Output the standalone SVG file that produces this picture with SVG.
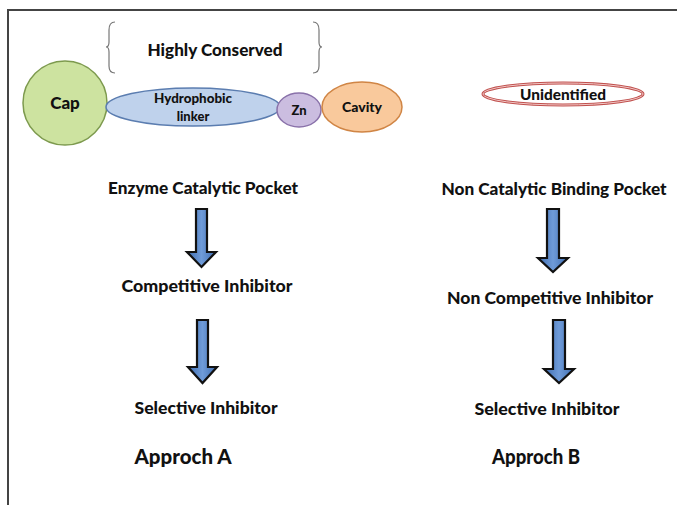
<svg xmlns="http://www.w3.org/2000/svg" width="677" height="505" viewBox="0 0 677 505">
<defs>
<linearGradient id="ag" x1="0" y1="0" x2="1" y2="0">
<stop offset="0" stop-color="#3d6cb0"/>
<stop offset="0.5" stop-color="#6f9bd8"/>
<stop offset="1" stop-color="#3d6cb0"/>
</linearGradient>
<style>
.t{font-family:Lato,"Liberation Sans",sans-serif;font-weight:900;fill:#111;text-anchor:middle}
.arr{fill:url(#ag);stroke:#111;stroke-width:2.2;stroke-linejoin:miter}
.br{fill:none;stroke:#777;stroke-width:1.2}
</style>
</defs>
<rect width="677" height="505" fill="#fff"/>
<path d="M8 505 V10 H677" fill="none" stroke="#444" stroke-width="2"/>
<g id="conserved">
<path class="br" d="M115 22 Q109 22 109 30 V42 Q109 47 106 47 Q109 47 109 52 V66 Q109 73 115 73"/>
<path class="br" d="M313 22 Q319 22 319 30 V42 Q319 47 322 47 Q319 47 319 52 V66 Q319 73 313 73"/>
<text class="t" x="215" y="56" font-size="17" textLength="135" lengthAdjust="spacingAndGlyphs">Highly Conserved</text>
</g>
<g id="cap">
<circle cx="65" cy="103" r="42" fill="#cde3a0" stroke="#7d9a4e" stroke-width="1.5"/>
<text class="t" x="65" y="109" font-size="17">Cap</text>
</g>
<g id="linker">
<ellipse cx="193" cy="107" rx="87" ry="19" fill="#bfd2ec" stroke="#5b7db0" stroke-width="1.5"/>
<text class="t" x="193" y="103" font-size="13" textLength="78" lengthAdjust="spacingAndGlyphs">Hydrophobic</text>
<text class="t" x="193" y="121" font-size="13">linker</text>
</g>
<g id="zn">
<ellipse cx="299" cy="110" rx="22" ry="17" fill="#cbbde0" stroke="#8a72aa" stroke-width="1.5"/>
<text class="t" x="299" y="115" font-size="13">Zn</text>
</g>
<g id="cavity">
<ellipse cx="362" cy="107" rx="40" ry="25" fill="#f9c99c" stroke="#d08545" stroke-width="1.5"/>
<text class="t" x="362" y="112" font-size="14">Cavity</text>
</g>
<g id="unidentified">
<ellipse cx="563" cy="94" rx="80" ry="11" fill="#fff" stroke="#c0504d" stroke-width="3"/>
<ellipse cx="563" cy="94" rx="80" ry="11" fill="none" stroke="#f2c8c7" stroke-width="1"/>
<text class="t" x="563" y="100" font-size="15" textLength="86" lengthAdjust="spacingAndGlyphs">Unidentified</text>
</g>
<g id="a1"><text class="t" x="203" y="194" font-size="17" textLength="190" lengthAdjust="spacingAndGlyphs">Enzyme Catalytic Pocket</text></g>
<g id="a2"><text class="t" x="207" y="292" font-size="17" textLength="171" lengthAdjust="spacingAndGlyphs">Competitive Inhibitor</text></g>
<g id="a3"><text class="t" x="206" y="414" font-size="17" textLength="143" lengthAdjust="spacingAndGlyphs">Selective Inhibitor</text></g>
<g id="b1"><text class="t" x="554" y="195" font-size="17" textLength="225" lengthAdjust="spacingAndGlyphs">Non Catalytic Binding Pocket</text></g>
<g id="b2"><text class="t" x="550" y="304" font-size="17" textLength="206" lengthAdjust="spacingAndGlyphs">Non Competitive Inhibitor</text></g>
<g id="b3"><text class="t" x="547" y="415" font-size="17" textLength="145" lengthAdjust="spacingAndGlyphs">Selective Inhibitor</text></g>
<g id="labelA"><text class="t" x="183" y="464" font-size="20" textLength="97" lengthAdjust="spacingAndGlyphs">Approch A</text></g>
<g id="labelB"><text class="t" x="536" y="464" font-size="20" textLength="88" lengthAdjust="spacingAndGlyphs">Approch B</text></g>
<g id="connectors">
<path class="arr" d="M196 209 H207 V252 H216 L201.5 267 L187 252 H196 Z"/>
<path class="arr" d="M197 320 H208 V367 H217 L202.5 383 L188 367 H197 Z"/>
<path class="arr" d="M547 209 H559 V258 H568 L553 272 L538 258 H547 Z"/>
<path class="arr" d="M553 320 H565 V369 H574 L559 383 L544 369 H553 Z"/>
</g>
</svg>
